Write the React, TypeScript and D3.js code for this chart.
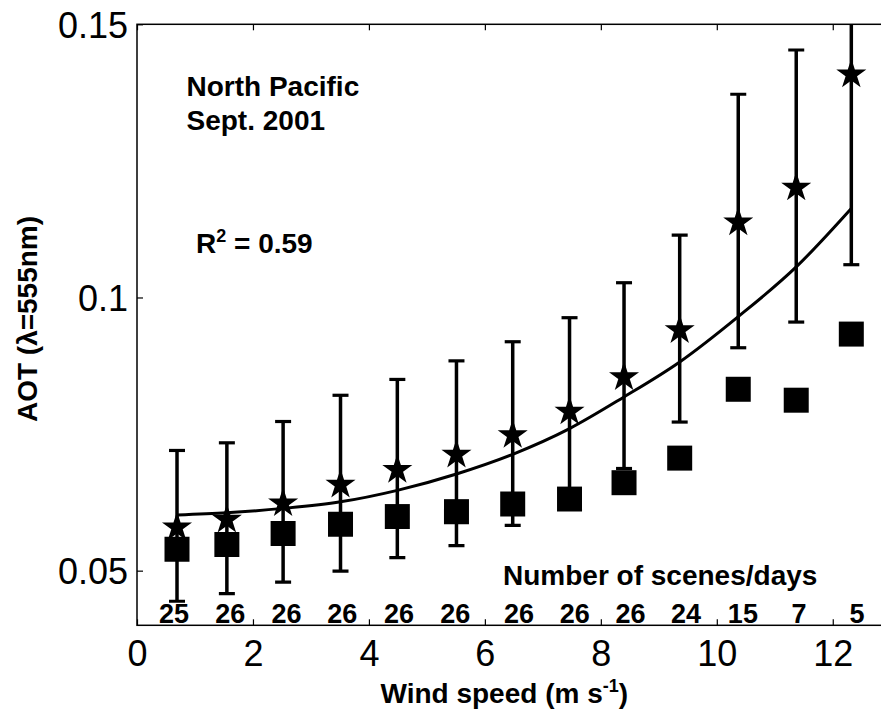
import React, { useEffect, useRef } from "react";
import * as d3 from "d3";

// ---- data ----
const windSpeed = [0.69, 1.55, 2.52, 3.51, 4.49, 5.51, 6.48, 7.46, 8.4, 9.36, 10.37, 11.37, 12.32];
const aotMean = [0.0582, 0.0596, 0.0626, 0.066, 0.0687, 0.0715, 0.0751, 0.0794, 0.0857, 0.0943, 0.114, 0.1204, 0.1411];
const aotStd = [0.0138, 0.0138, 0.0147, 0.0161, 0.0163, 0.0169, 0.0168, 0.0169, 0.017, 0.0171, 0.0232, 0.0249, 0.0351];
const aotSquares = [0.0539, 0.0548, 0.0568, 0.0585, 0.0599, 0.0608, 0.0622, 0.0631, 0.0661, 0.0706, 0.0832, 0.0812, 0.0933];
const fitAot = [0.0602, 0.0606, 0.0614, 0.0626, 0.0647, 0.0677, 0.0713, 0.076, 0.0818, 0.0882, 0.0965, 0.1056, 0.1163];
const sceneCounts = [25, 26, 26, 26, 26, 26, 26, 26, 26, 24, 15, 7, 5];
const countLabelX = [0.64, 1.61, 2.58, 3.54, 4.52, 5.49, 6.59, 7.55, 8.51, 9.47, 10.45, 11.42, 12.42];
const xTicks = [0, 2, 4, 6, 8, 10, 12];
const xTickLabels = ["0", "2", "4", "6", "8", "10", "12"];
const yTicks = [0.05, 0.1, 0.15];
const yTickLabels = ["0.05", "0.1", "0.15"];

const FONT = "'Liberation Sans', Arial, Helvetica, sans-serif";

export default function App() {
  const ref = useRef<SVGSVGElement | null>(null);

  useEffect(() => {
    const svg = d3.select(ref.current);
    svg.selectAll("*").remove();

    const left = 137, top = 24.3, bottom = 625.3;
    const x = d3.scaleLinear().domain([0, 14]).range([left, left + 14 * 57.98]);
    const y = d3.scaleLinear().domain([0.04, 0.15]).range([bottom, top]);
    const right = x(14);

    const defs = svg.append("defs");
    defs.append("clipPath").attr("id", "plotclip")
      .append("rect").attr("x", left).attr("y", top).attr("width", right - left).attr("height", bottom - top);

    const plot = svg.append("g").attr("clip-path", "url(#plotclip)");

    // fit curve
    const line = d3.line<number>()
      .x((_, i) => x(windSpeed[i]))
      .y((d) => y(d))
      .curve(d3.curveMonotoneX);
    plot.append("path").datum(fitAot).attr("d", line as any)
      .attr("fill", "none").attr("stroke", "#000").attr("stroke-width", 3);

    // error bars
    const eb = plot.append("g").selectAll("g").data(aotMean).join("g");
    eb.append("line")
      .attr("x1", (_, i) => x(windSpeed[i])).attr("x2", (_, i) => x(windSpeed[i]))
      .attr("y1", (d, i) => y(d - aotStd[i])).attr("y2", (d, i) => y(d + aotStd[i]))
      .attr("stroke", "#000").attr("stroke-width", 3.5);
    [-1, 1].forEach((s) => {
      eb.append("line")
        .attr("x1", (_, i) => x(windSpeed[i]) - 8).attr("x2", (_, i) => x(windSpeed[i]) + 8)
        .attr("y1", (d, i) => y(d + s * aotStd[i])).attr("y2", (d, i) => y(d + s * aotStd[i]))
        .attr("stroke", "#000").attr("stroke-width", 3.2);
    });

    // stars
    const star = d3.symbol().type(d3.symbolStar).size(280);
    plot.append("g").selectAll("path").data(aotMean).join("path")
      .attr("d", star as any)
      .attr("transform", (d, i) => `translate(${x(windSpeed[i])},${y(d) + 1.5})`)
      .attr("fill", "#000");

    // squares
    const sq = d3.symbol().type(d3.symbolSquare).size(625);
    plot.append("g").selectAll("path").data(aotSquares).join("path")
      .attr("d", sq as any)
      .attr("transform", (d, i) => `translate(${x(windSpeed[i])},${y(d)})`)
      .attr("fill", "#000");

    // frame
    svg.append("rect").attr("x", left).attr("y", top).attr("width", right - left).attr("height", bottom - top)
      .attr("fill", "none").attr("stroke", "#000").attr("stroke-width", 1.5);

    // axes
    const fmtX = (d: any) => xTickLabels[xTicks.indexOf(d)];
    const fmtY = (d: any) => yTickLabels[yTicks.indexOf(d)];
    const gx = svg.append("g").attr("transform", `translate(0,${bottom})`)
      .call(d3.axisBottom(x).tickValues(xTicks).tickFormat(fmtX).tickSizeInner(-6).tickSizeOuter(0).tickPadding(15));
    const gxt = svg.append("g").attr("transform", `translate(0,${top})`)
      .call(d3.axisTop(x).tickValues(xTicks).tickFormat(() => "").tickSizeInner(-6).tickSizeOuter(0));
    const gy = svg.append("g").attr("transform", `translate(${left},0)`)
      .call(d3.axisLeft(y).tickValues(yTicks).tickFormat(fmtY).tickSizeInner(-6).tickSizeOuter(0).tickPadding(9));
    [gx, gxt, gy].forEach((g) => {
      g.select(".domain").remove();
      g.selectAll(".tick line").attr("stroke", "#000").attr("stroke-width", 1.2);
      g.selectAll("text").attr("font-family", FONT).attr("font-size", 36).attr("fill", "#000");
    });
    gy.selectAll("text").attr("dy", "0.37em");

    // annotations
    const txt = (xx: number, yy: number, s: string, size = 28) =>
      svg.append("text").attr("x", xx).attr("y", yy).attr("font-family", FONT)
        .attr("font-weight", "bold").attr("font-size", size).attr("fill", "#000").text(s);

    txt(186.5, 95.5, "North Pacific");
    txt(186.5, 130, "Sept. 2001");

    const r2 = svg.append("text").attr("x", 196).attr("y", 253).attr("font-family", FONT)
      .attr("font-weight", "bold").attr("font-size", 28).attr("fill", "#000");
    r2.append("tspan").text("R");
    r2.append("tspan").attr("font-size", 18).attr("dy", -11).text("2");
    r2.append("tspan").attr("dy", 11).text(" = 0.59");

    txt(503, 585, "Number of scenes/days");

    svg.append("g").selectAll("text").data(sceneCounts).join("text")
      .attr("x", (_, i) => x(countLabelX[i])).attr("y", 623)
      .attr("text-anchor", "middle").attr("font-family", FONT).attr("font-weight", "bold")
      .attr("font-size", 27).attr("fill", "#000").text((d) => String(d));

    // axis titles
    const xl = svg.append("text").attr("x", 380.5).attr("y", 703).attr("font-family", FONT)
      .attr("font-weight", "bold").attr("font-size", 28).attr("fill", "#000");
    xl.append("tspan").text("Wind speed (m s");
    xl.append("tspan").attr("font-size", 18).attr("dy", -11).text("-1");
    xl.append("tspan").attr("dy", 11).text(")");

    svg.append("text").attr("transform", "translate(37,319) rotate(-90)")
      .attr("text-anchor", "middle").attr("font-family", FONT).attr("font-weight", "bold")
      .attr("font-size", 28).attr("fill", "#000").text("AOT (λ=555nm)");
  }, []);

  return (
    <svg ref={ref} width={881} height={710}
      style={{ position: "absolute", left: 0, top: 0, background: "#fff" }} />
  );
}
